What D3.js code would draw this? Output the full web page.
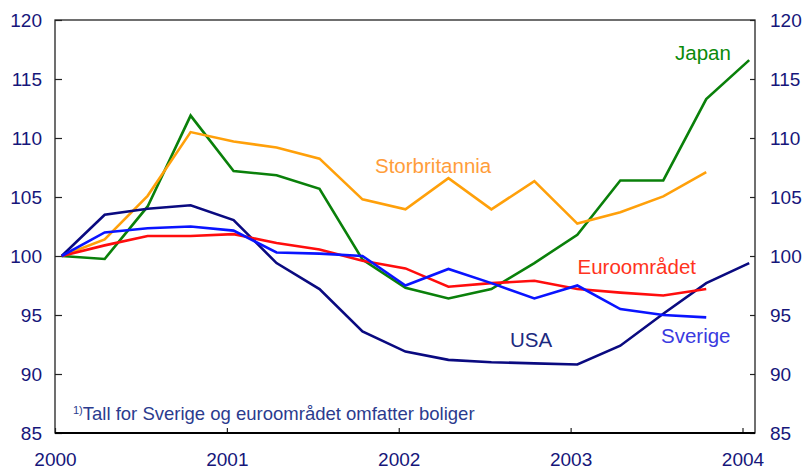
<!DOCTYPE html>
<html>
<head>
    <meta charset="utf-8">
    <title>Boligpriser</title>
    <script src="https://cdnjs.cloudflare.com/ajax/libs/d3/7.8.5/d3.min.js"></script>
    <style>
        html,
        body {
            margin: 0;
            padding: 0;
            background-color: white;
            font-family: 'Liberation Sans', Arial, sans-serif;
        }

        #chart {
            width: 804px;
            height: 471px;
        }
    </style>
</head>
<body>
    <div id="chart"></div>
    <script>
        // quarterly observations, 2000 K1 .. 2004 K1
        const quarters = ["2000K1", "2000K2", "2000K3", "2000K4", "2001K1", "2001K2", "2001K3", "2001K4",
            "2002K1", "2002K2", "2002K3", "2002K4", "2003K1", "2003K2", "2003K3", "2003K4", "2004K1"];

        const japan = [100, 99.75, 104.2, 111.9, 107.2, 106.85, 105.7, 99.7, 97.3, 96.4, 97.2, 99.4, 101.8, 106.4, 106.4, 113.3, 116.6];
        const storbritannia = [100, 101.4, 105.1, 110.5, 109.7, 109.2, 108.25, 104.8, 103.95, 106.6, 103.95, 106.35, 102.75, 103.7, 105.05, 107.1];
        const usa = [100, 103.5, 104.0, 104.3, 103.05, 99.4, 97.2, 93.6, 91.9, 91.2, 91.0, 90.9, 90.8, 92.4, 95.1, 97.7, 99.4];
        const euroomradet = [100, 100.9, 101.7, 101.7, 101.85, 101.1, 100.55, 99.6, 98.95, 97.4, 97.7, 97.9, 97.2, 96.9, 96.65, 97.2];
        const sverige = [100, 102.0, 102.35, 102.5, 102.15, 100.3, 100.2, 100.0, 97.5, 98.9, 97.7, 96.4, 97.5, 95.5, 95.0, 94.8];

        const yearTicks = [2000, 2001, 2002, 2003, 2004];
        const valueTicks = [85, 90, 95, 100, 105, 110, 115, 120];
        const footnote = "Tall for Sverige og euroområdet omfatter boliger";

        const series = [
            { name: "Japan", values: japan, color: "#0a800a", labelColor: "#0a8a0a", lx: 675, ly: 60 },
            { name: "Storbritannia", values: storbritannia, color: "#ffa00a", labelColor: "#ff9d3a", lx: 375, ly: 172.5 },
            { name: "USA", values: usa, color: "#0a0a80", labelColor: "#1c2a80", lx: 510, ly: 346.5 },
            { name: "Euroområdet", values: euroomradet, color: "#ff0d0d", labelColor: "#ff3320", lx: 577.5, ly: 274 },
            { name: "Sverige", values: sverige, color: "#0a14ff", labelColor: "#3a3ae0", lx: 661, ly: 342.5 }
        ];

        const width = 804, height = 471;
        const margin = { top: 20, right: 49, bottom: 38, left: 55 };
        const innerW = width - margin.left - margin.right;
        const innerH = height - margin.top - margin.bottom;

        // quarter label -> position in years (points sit a little after the quarter start)
        const qPos = q => +q.slice(0, 4) + (+q.slice(5) - 1) / 4 + 0.039;

        const x = d3.scaleLinear().domain([2000, 2004]).range([0, 687.5]);
        const y = d3.scaleLinear().domain([85, 120]).range([innerH, 0]);

        const svg = d3.select("#chart")
            .append("svg")
            .attr("width", width)
            .attr("height", height);

        const g = svg.append("g")
            .attr("transform", `translate(${margin.left},${margin.top})`);

        const tickColor = "#16167a";

        const xAxis = g.append("g")
            .attr("transform", `translate(0,${innerH})`)
            .call(d3.axisBottom(x).tickValues(yearTicks).tickFormat(d3.format("d")).tickSize(-5).tickPadding(20));

        const yLeft = g.append("g")
            .call(d3.axisLeft(y).tickValues(valueTicks).tickSize(-7).tickPadding(13));

        const yRight = g.append("g")
            .attr("transform", `translate(${innerW},0)`)
            .call(d3.axisRight(y).tickValues(valueTicks).tickSize(-5).tickPadding(15));

        [xAxis, yLeft, yRight].forEach(ax => {
            ax.select(".domain").remove();
            ax.selectAll(".tick line").attr("stroke", "#222").attr("stroke-width", 1.2);
            ax.selectAll(".tick text")
                .attr("fill", tickColor)
                .style("font-size", "19px")
                .style("font-family", "'Liberation Sans', Arial, sans-serif");
        });

        // frame
        g.append("rect")
            .attr("x", 0)
            .attr("y", 0)
            .attr("width", innerW)
            .attr("height", innerH)
            .attr("fill", "none")
            .attr("stroke", "#222")
            .attr("stroke-width", 1.3);

        g.append("line")
            .attr("x1", 0)
            .attr("x2", innerW)
            .attr("y1", innerH)
            .attr("y2", innerH)
            .attr("stroke", "#000")
            .attr("stroke-width", 2);

        const line = d3.line()
            .x((d, i) => x(qPos(quarters[i])))
            .y(d => y(d));

        g.selectAll(".series")
            .data(series)
            .enter()
            .append("path")
            .attr("class", "series")
            .attr("fill", "none")
            .attr("stroke", d => d.color)
            .attr("stroke-width", 2.6)
            .attr("stroke-linejoin", "miter")
            .attr("d", d => line(d.values));

        svg.selectAll(".series-label")
            .data(series)
            .enter()
            .append("text")
            .attr("class", "series-label")
            .attr("x", d => d.lx)
            .attr("y", d => d.ly)
            .attr("fill", d => d.labelColor)
            .style("font-size", "20.5px")
            .text(d => d.name);

        // footnote with superscript marker
        const note = svg.append("text")
            .attr("x", 73)
            .attr("y", 420)
            .attr("fill", "#2b3b8e")
            .style("font-size", "18.5px");

        note.append("tspan")
            .attr("dy", -6)
            .style("font-size", "11px")
            .text("1)");

        note.append("tspan")
            .attr("dy", 6)
            .text(footnote);
    </script>
</body>
</html>
